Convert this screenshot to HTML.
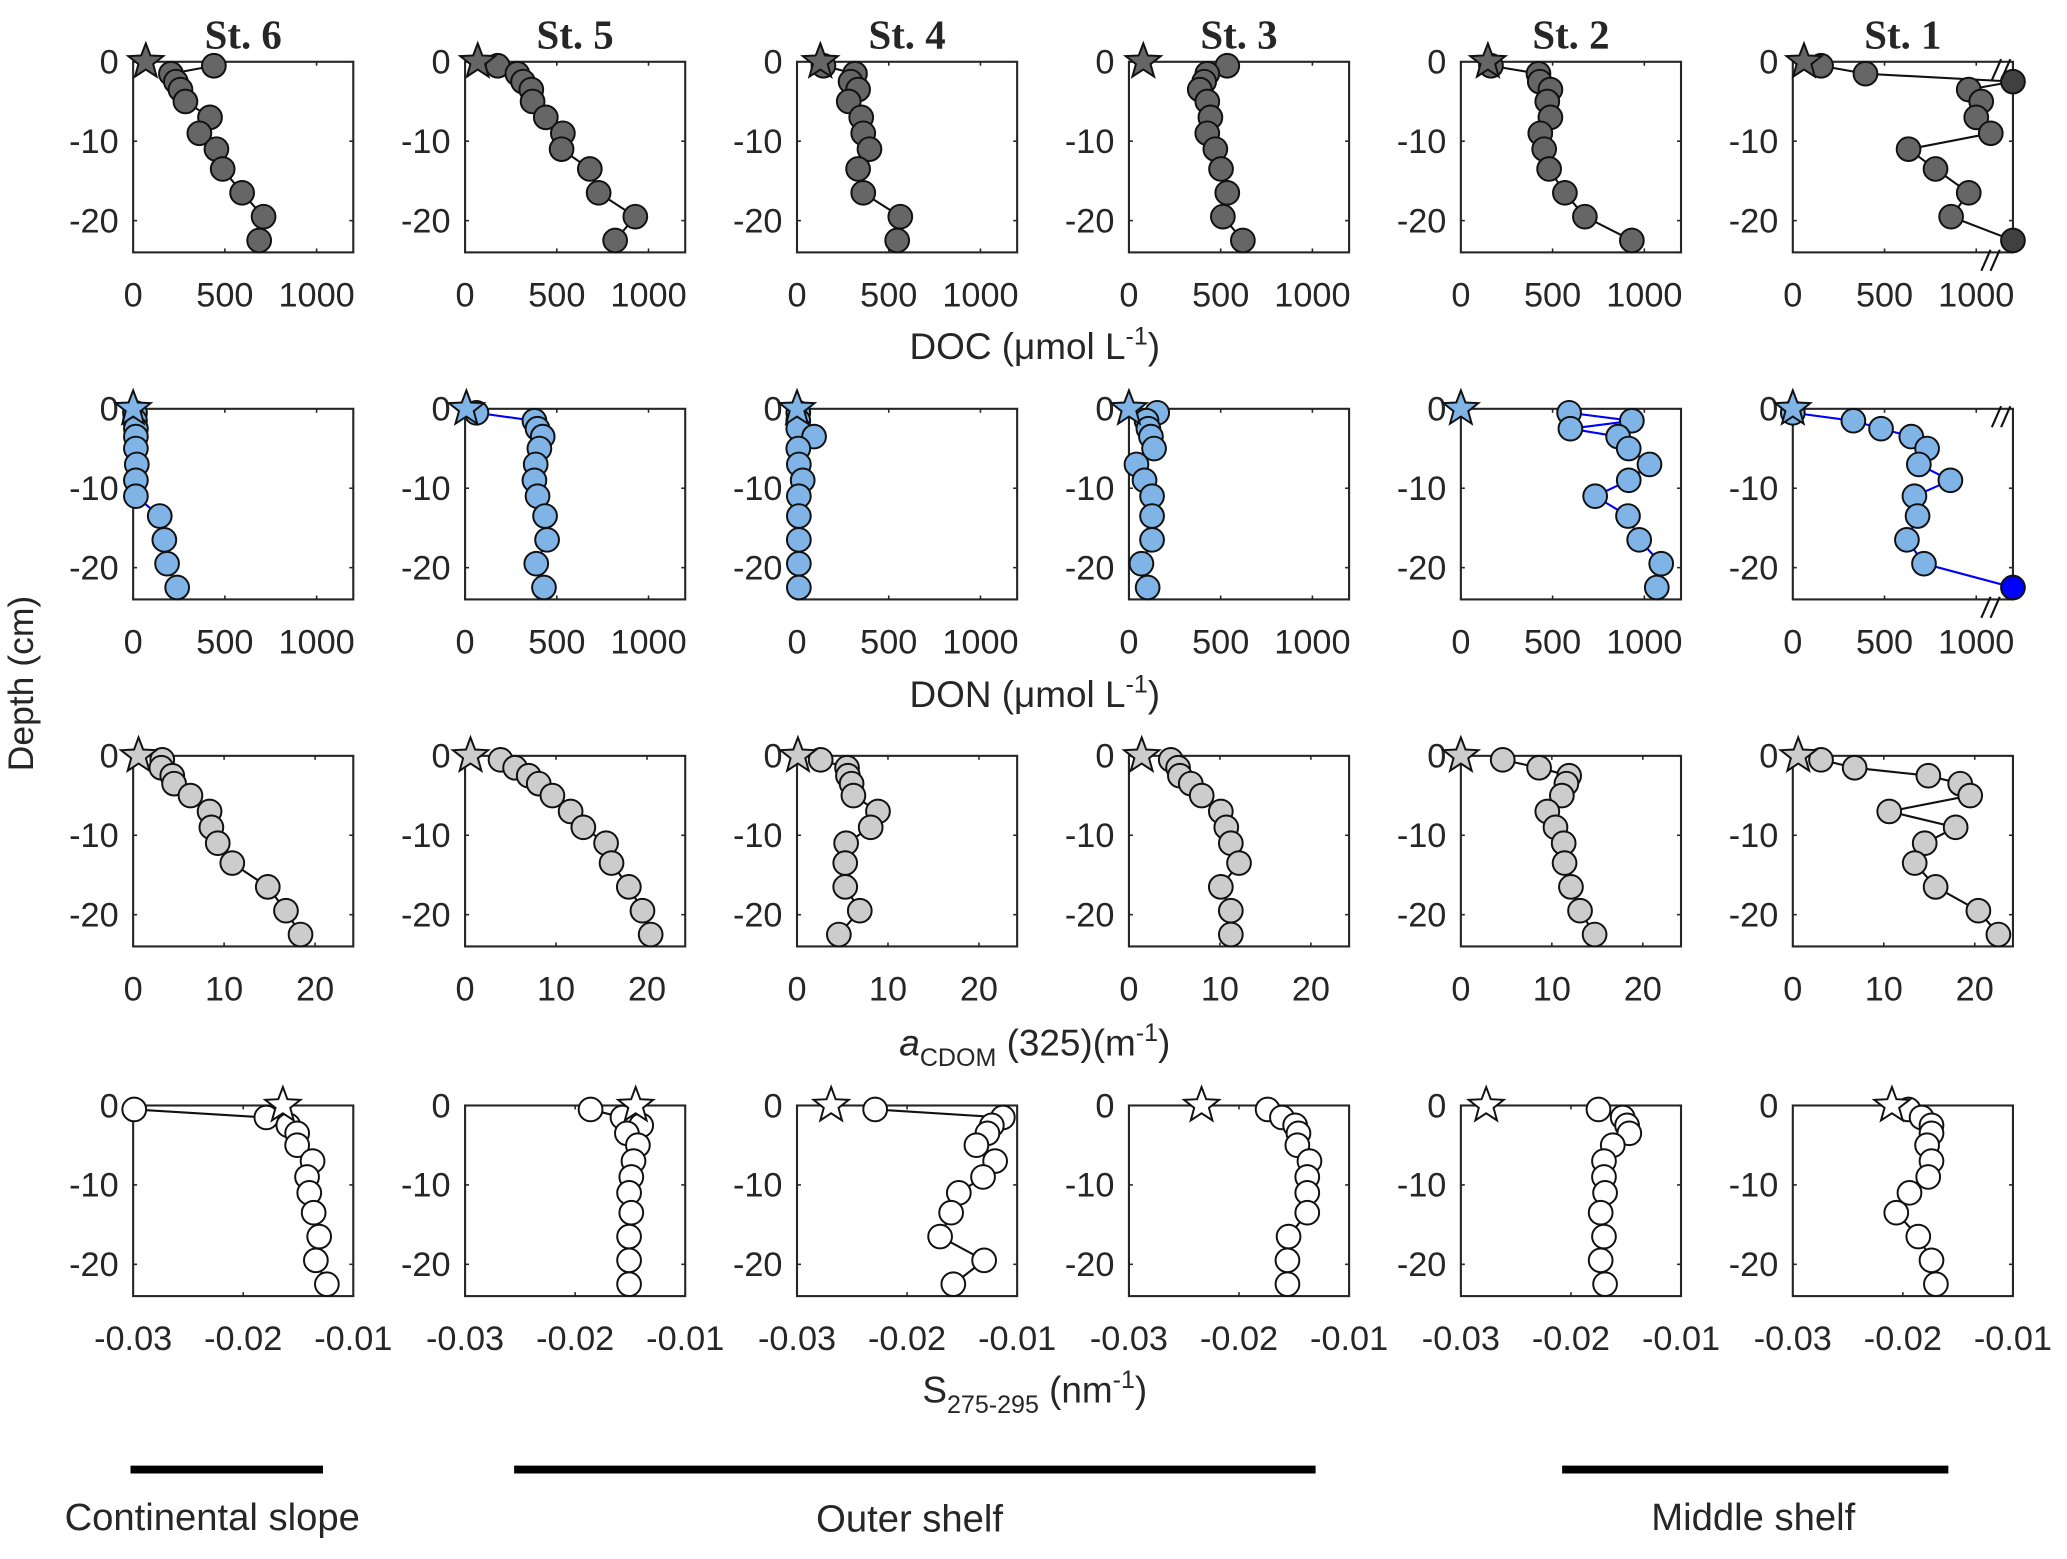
<!DOCTYPE html>
<html><head><meta charset="utf-8"><style>
html,body{margin:0;padding:0;background:#fff;}
svg{display:block;}
text{font-family:"Liberation Sans",sans-serif;fill:#262626;}
</style></head><body>
<svg id="fig" width="2067" height="1559" viewBox="0 0 1568 1186" preserveAspectRatio="none" xmlns="http://www.w3.org/2000/svg">
<text x="25" y="520" font-size="27" text-anchor="middle" transform="rotate(-90 25 520)">Depth (cm)</text>
<text x="785" y="273" font-size="28" text-anchor="middle">DOC  (μmol L<tspan dy="-11" font-size="19">-1</tspan><tspan dy="11">)</tspan></text>
<text x="785" y="538" font-size="28" text-anchor="middle">DON (μmol L<tspan dy="-11" font-size="19">-1</tspan><tspan dy="11">)</tspan></text>
<text x="785" y="803" font-size="28" text-anchor="middle"><tspan font-style="italic">a</tspan><tspan dy="8" font-size="19">CDOM</tspan><tspan dy="-8"> (325)(m</tspan><tspan dy="-11" font-size="19">-1</tspan><tspan dy="11">)</tspan></text>
<text x="785" y="1067" font-size="28" text-anchor="middle">S<tspan dy="8" font-size="19">275-295</tspan><tspan dy="-8"> (nm</tspan><tspan dy="-11" font-size="19">-1</tspan><tspan dy="11">)</tspan></text>
<line x1="99" y1="1118" x2="245" y2="1118" stroke="#000" stroke-width="6"/>
<line x1="390" y1="1118" x2="998" y2="1118" stroke="#000" stroke-width="6"/>
<line x1="1185" y1="1118" x2="1478" y2="1118" stroke="#000" stroke-width="6"/>
<text x="161" y="1164" font-size="29" text-anchor="middle" fill="#000">Continental slope</text>
<text x="690" y="1165" font-size="29" text-anchor="middle" fill="#000">Outer shelf</text>
<text x="1330" y="1164" font-size="29" text-anchor="middle" fill="#000">Middle shelf</text>
</svg>
<script>
const stations = ["St. 6","St. 5","St. 4","St. 3","St. 2","St. 1"];
const depths = [-0.5,-1.5,-2.5,-3.5,-5,-7,-9,-11,-13.5,-16.5,-19.5,-22.5];
const depthTicks = [0,-10,-20];
const docTicks = [0,500,1000];
const cdomTicks = [0,10,20];
const slopeTicks = [-0.03,-0.02,-0.01];
const slopeTickLabels = ["-0.03","-0.02","-0.01"];
const docStars = [69,69,127,78,147,61];
const docSt6 = [440,206,233,258,285,419,361,454,488,594,711,687];
const docSt5 = [178,285,316,361,368,440,533,526,680,728,928,818];
const docSt4 = [144,316,292,333,282,350,361,395,333,361,563,546];
const docSt3 = [536,427,410,386,427,444,427,471,502,536,512,621];
const docSt2 = [164,423,430,488,471,488,433,454,481,567,676,932];
const docSt1 = [154,396,1300,959,1027,1000,1079,631,778,959,863,1300];
const donStars = [0,7,0,0,0,0];
const donSt6 = [10,10,15,15,15,20,15,15,145,170,185,240];
const donSt5 = [62,378,395,423,405,385,378,395,436,447,388,430];
const donSt4 = [7,7,7,93,7,10,31,10,10,10,10,10];
const donSt3 = [154,96,106,120,137,41,85,126,126,126,68,102];
const donSt2 = [590,932,597,857,915,1028,915,732,911,972,1092,1068];
const donSt1 = [0,330,481,646,732,687,859,663,680,622,715,1300];
const cdomStars = [0.6,0.6,0.1,1.4,0,0.6];
const cdomSt6 = [3.2,3.1,4.3,4.5,6.3,8.4,8.6,9.3,10.9,14.8,16.8,18.4];
const cdomSt5 = [3.9,5.5,7,8.1,9.6,11.6,13,15.5,16.1,18,19.5,20.4];
const cdomSt4 = [2.6,5.5,5.6,6,6.2,8.9,8.1,5.4,5.3,5.3,6.9,4.6];
const cdomSt3 = [4.6,5.4,5.6,6.8,8,10.1,10.7,11.2,12.1,10.1,11.2,11.2];
const cdomSt2 = [4.6,8.6,11.9,11.6,11.1,9.5,10.4,11.3,11.4,12.1,13.1,14.7];
const cdomSt1 = [3.1,6.8,14.9,18.4,19.5,10.6,17.9,14.5,13.4,15.7,20.4,22.6];
const slopeStars = [-0.0164,-0.0145,-0.0269,-0.0234,-0.0277,-0.021];
const slopeSt6 = [-0.0299,-0.0179,-0.0159,-0.0151,-0.0151,-0.0137,-0.0142,-0.014,-0.0136,-0.0131,-0.0134,-0.0124];
const slopeSt5 = [-0.0186,-0.0157,-0.014,-0.0153,-0.0143,-0.0147,-0.0149,-0.0151,-0.0149,-0.0151,-0.0151,-0.0151];
const slopeSt4 = [-0.0229,-0.0113,-0.0123,-0.0127,-0.0137,-0.012,-0.0131,-0.0153,-0.016,-0.017,-0.013,-0.0158];
const slopeSt3 = [-0.0174,-0.0161,-0.0149,-0.0146,-0.0147,-0.0136,-0.0138,-0.0138,-0.0138,-0.0155,-0.0156,-0.0156];
const slopeSt2 = [-0.0175,-0.0153,-0.0149,-0.0147,-0.0162,-0.017,-0.017,-0.0169,-0.0173,-0.017,-0.0173,-0.0169];
const slopeSt1 = [-0.0195,-0.0183,-0.0174,-0.0174,-0.0178,-0.0174,-0.0177,-0.0194,-0.0206,-0.0186,-0.0174,-0.017];

const NS = "http://www.w3.org/2000/svg";
const svg = document.getElementById("fig");
function mk(tag, attrs, parent){ const e=document.createElementNS(NS,tag); for(const k in attrs) e.setAttribute(k,attrs[k]); (parent||svg).appendChild(e); return e; }

const rows = [
 {key:"doc", top:47, min:0, max:1200, ticks:docTicks, labels:docTicks.map(String), series:[docSt6,docSt5,docSt4,docSt3,docSt2,docSt1], stars:docStars, fill:"#666666", over:"#404040", line:"#111"},
 {key:"don", top:311, min:0, max:1200, ticks:docTicks, labels:docTicks.map(String), series:[donSt6,donSt5,donSt4,donSt3,donSt2,donSt1], stars:donStars, fill:"#80b3e6", over:"#0000ff", line:"#0000ff"},
 {key:"acdom", top:575, min:0, max:24.2, ticks:cdomTicks, labels:cdomTicks.map(String), series:[cdomSt6,cdomSt5,cdomSt4,cdomSt3,cdomSt2,cdomSt1], stars:cdomStars, fill:"#cccccc", over:"#cccccc", line:"#111"},
 {key:"slope", top:841, min:-0.03, max:-0.01, ticks:slopeTicks, labels:slopeTickLabels, series:[slopeSt6,slopeSt5,slopeSt4,slopeSt3,slopeSt2,slopeSt1], stars:slopeStars, fill:"#ffffff", over:"#ffffff", line:"#111"}
];
const W=167, H=145, DMAX=-24;

function starPts(cx,cy,R){ const r=R*0.42; let p=[]; for(let i=0;i<10;i++){ const a=-Math.PI/2+i*Math.PI/5; const rr=i%2?r:R; p.push((cx+rr*Math.cos(a)).toFixed(1)+","+(cy+rr*Math.sin(a)).toFixed(1)); } return p.join(" "); }

stations.forEach((st,si)=>{
  const left = 101 + si*251.8;
  const t = mk("text",{x:left+W/2,y:37,"font-size":31,"text-anchor":"middle","font-weight":"bold",style:"font-family:'Liberation Serif',serif",fill:"#000"});
  
  
  t.textContent = st;
  rows.forEach(row=>{
    const g = mk("g",{});
    
    
    const top=row.top;
    const xs = v => left + (Math.min(Math.max(v,row.min),row.max)-row.min)/(row.max-row.min)*W;
    const ys = d => top + d/DMAX*H;
    const box = mk("rect",{x:left,y:top,width:W,height:H,fill:"none",stroke:"#262626","stroke-width":1.6},g);
    
    
    row.ticks.forEach((tv,i)=>{
      const x=xs(tv);
      mk("line",{x1:x,y1:top+H,x2:x,y2:top+H-3,stroke:"#262626","stroke-width":1.2},g);
      mk("line",{x1:x,y1:top,x2:x,y2:top+3,stroke:"#262626","stroke-width":1.2},g);
      const lb = mk("text",{x:x,y:top+H+41,"font-size":26,"text-anchor":"middle"},g);
      
      
      lb.textContent=row.labels[i];
    });
    depthTicks.forEach(dv=>{
      const y=ys(dv);
      mk("line",{x1:left,y1:y,x2:left+3,y2:y,stroke:"#262626","stroke-width":1.2},g);
      mk("line",{x1:left+W,y1:y,x2:left+W-3,y2:y,stroke:"#262626","stroke-width":1.2},g);
      const lb = mk("text",{x:left-11,y:y+9,"font-size":26,"text-anchor":"end"},g);
      
      
      lb.textContent=String(dv);
    });
    const vals=row.series[si];
    const pts=vals.map((v,i)=>xs(v).toFixed(1)+","+ys(depths[i]).toFixed(1)).join(" ");
    const pl = mk("polyline",{points:pts,fill:"none",stroke:row.line,"stroke-width":1.6},g);
    
    
    vals.forEach((v,i)=>{
      const off = v>row.max;
      const c = mk("circle",{cx:xs(v),cy:ys(depths[i]),r:9,fill:off?row.over:row.fill,stroke:"#111","stroke-width":1.5},g);
      
      
    });
    const s = mk("polygon",{points:starPts(xs(row.stars[si]),top,14),fill:row.fill,stroke:"#111","stroke-width":1.5},g);
    
    
    if(si===5 && row.max>1000){
      [[left+W-12,top+6],[left+W-20,top+H+6]].forEach(p=>{
        const b=mk("g",{},g);
        
        
        mk("line",{x1:p[0]-4,y1:p[1]+8,x2:p[0]+3,y2:p[1]-8,stroke:"#111","stroke-width":1.6},b);
        mk("line",{x1:p[0]+3,y1:p[1]+8,x2:p[0]+10,y2:p[1]-8,stroke:"#111","stroke-width":1.6},b);
      });
    }
  });
});
</script>
</body></html>
